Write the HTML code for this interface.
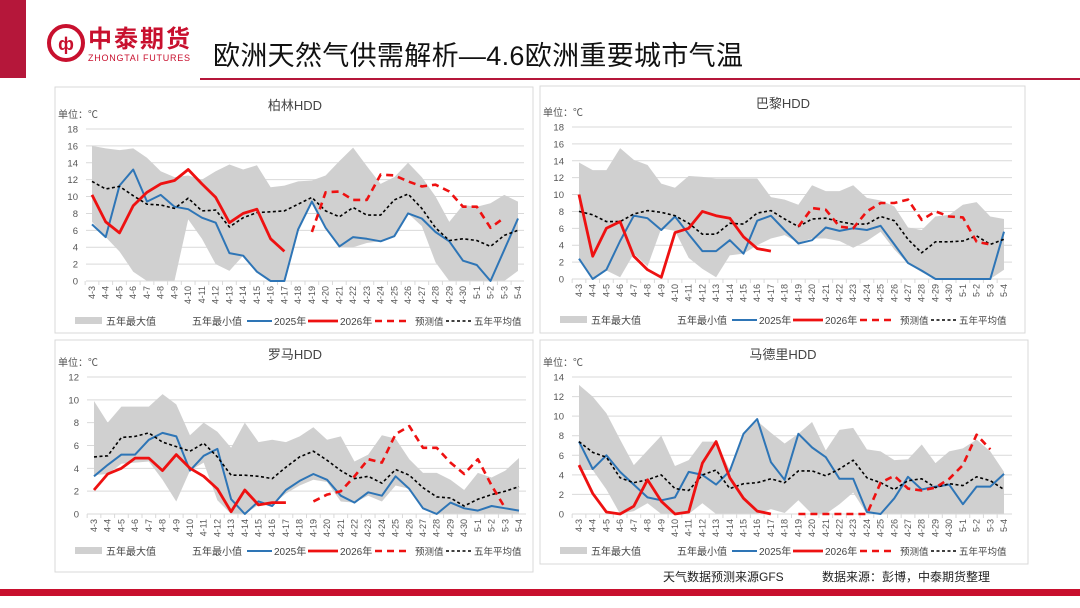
<!DOCTYPE html>
<html><head><meta charset="utf-8"><style>
html,body{margin:0;padding:0;background:#fff;width:1080px;height:608px;overflow:hidden}
svg text{font-family:"Liberation Sans","Noto Sans CJK SC",sans-serif}
</style></head><body>
<svg id="s" width="1080" height="608" xmlns="http://www.w3.org/2000/svg">
<rect x="0" y="0" width="26" height="78" fill="#b5173a"/>
<g>
<circle cx="66" cy="43" r="17" fill="none" stroke="#c8102e" stroke-width="4"/>
<text x="66" y="50" text-anchor="middle" font-size="18" font-weight="bold" fill="#c8102e">ф</text>
<text x="88" y="47" font-size="24" font-weight="bold" fill="#c8102e" font-family="Noto Sans CJK SC,sans-serif" textLength="102">中泰期货</text>
<text x="88" y="61" font-size="9" fill="#c8102e" textLength="102">ZHONGTAI FUTURES</text>
</g>
<text x="213" y="65" font-size="27" fill="#111" font-family="Noto Serif CJK SC,serif" textLength="530">欧洲天然气供需解析—4.6欧洲重要城市气温</text>
<rect x="200" y="78" width="880" height="2" fill="#b5173a"/>
<rect x="0" y="589" width="1080" height="7" fill="#c8102e"/>
<text x="663" y="581" font-size="12" fill="#222">天气数据预测来源GFS</text>
<text x="822" y="581" font-size="12" fill="#222">数据来源：彭博，中泰期货整理</text>
</svg>
<script>
const categories=["4-3","4-4","4-5","4-6","4-7","4-8","4-9","4-10","4-11","4-12","4-13","4-14","4-15","4-16","4-17","4-18","4-19","4-20","4-21","4-22","4-23","4-24","4-25","4-26","4-27","4-28","4-29","4-30","5-1","5-2","5-3","5-4"];
const N=null;
const berlinMax=[16,15.7,15.5,15.7,14.6,13,12.3,12.5,12,13,13.8,13.2,13.7,11.1,11.3,11.8,11.9,12.5,14.2,15.8,13.6,11.5,12.3,14,12.3,10,7,9,8.8,9.2,10.2,9.4];
const berlinMin=[7,5.2,3.5,1.1,0,0,0,7.3,5,2,1.2,3,1,0,0,6,9.4,6.3,4,4,4.5,4.7,5.2,8,6.5,2.2,0,0,0,0,0,1.2];
const berlin2025=[6.7,5.2,11.3,13.2,9.4,10.2,8.8,8.5,7.5,6.9,3.3,3.0,1.1,0,0,6.1,9.4,6.3,4.1,5.2,5.0,4.7,5.3,8.0,7.4,5.8,4.7,2.4,1.9,0,3.7,7.4];
const berlin2026=[10.2,7.0,5.7,8.9,10.5,11.5,11.9,13.2,11.5,9.9,6.9,8.0,8.5,5.0,3.5,N,N,N,N,N,N,N,N,N,N,N,N,N,N,N,N,N];
const berlinFc=[N,N,N,N,N,N,N,N,N,N,N,N,N,N,N,N,5.8,10.5,10.6,9.6,9.6,12.6,12.5,11.8,11.2,11.4,10.6,8.8,8.8,6.3,7.5,N];
const berlinAvg=[11.8,10.9,11.2,10.1,9.1,9.0,8.6,9.8,8.3,8.4,6.4,7.5,8.1,8.2,8.3,9.1,9.9,8.3,7.6,8.7,7.8,7.8,9.6,10.3,8.6,6.3,4.8,5.0,4.8,4.1,5.4,6.0];
const parisMax=[13.8,12.9,12.9,15.5,14.1,13.5,11.3,10.8,12.2,12.1,11.9,11.9,11.9,11.9,9.7,9.4,8.8,11.1,10.4,10.4,11.1,9.6,9.3,8.6,6.1,5.8,7.4,7.6,8.8,9.1,7.4,7.1];
const parisMin=[2.5,0,1.0,0.2,3.0,1.5,6.0,5.7,2.5,1.2,0.2,2.8,3.0,4.0,4.8,5.2,4.3,4.8,4.8,4.5,3.7,4.5,5.6,3.5,1.8,0.8,0,0,0,0,0,1.1];
const paris2025=[2.4,0,1.1,4.5,7.5,7.2,5.8,7.4,5.3,3.3,3.3,4.6,3.0,6.9,7.5,5.8,4.2,4.6,6.1,5.7,6.0,5.8,6.3,4.1,1.9,1.0,0,0,0,0,0,5.6];
const paris2026=[10.0,2.7,6.0,6.8,2.7,1.1,0.2,5.5,6.0,8.0,7.5,7.2,5.0,3.6,3.3,N,N,N,N,N,N,N,N,N,N,N,N,N,N,N,N,N];
const parisFc=[N,N,N,N,N,N,N,N,N,N,N,N,N,N,N,N,6.2,8.4,8.2,6.2,6.0,8.0,9.0,9.0,9.4,7.0,8.0,7.4,7.3,4.4,4.1,N];
const parisAvg=[8.0,7.6,6.8,6.8,7.7,8.1,7.9,7.5,6.6,5.3,5.3,6.6,6.5,7.8,8.1,7.1,6.2,7.1,7.2,6.8,6.5,6.5,7.4,6.9,4.7,3.1,4.4,4.4,4.5,5.1,4.1,4.7];
const romeMax=[9.9,8.0,9.4,9.4,9.4,10.5,9.6,6.9,8.0,7.2,5.8,8.0,6.3,6.5,6.3,6.8,7.6,6.5,6.8,4.6,5.2,6.9,6.6,4.8,3.6,3.6,3.0,2.1,3.6,3.2,3.8,4.9];
const romeMin=[3.4,3.5,4.4,4.5,4.6,3.0,1.1,3.8,4.5,1.2,0,0,0.8,0.8,1.8,2.5,3.0,2.8,1.1,1.0,1.6,1.1,2.5,2.2,0.5,0,0,0,0,0,0,0];
const rome2025=[3.3,4.3,5.2,5.2,6.5,7.1,6.8,3.8,5.1,5.7,1.3,0,1.1,0.7,2.1,2.9,3.5,3.0,1.6,1.0,1.9,1.6,3.3,2.2,0.5,0,1.0,0.5,0.3,0.7,0.5,0.3];
const rome2026=[2.1,3.5,4.0,4.9,4.9,3.8,5.2,4.0,3.3,2.2,0.2,2.1,0.8,1.0,1.0,N,N,N,N,N,N,N,N,N,N,N,N,N,N,N,N,N];
const romeFc=[N,N,N,N,N,N,N,N,N,N,N,N,N,N,N,N,1.1,1.7,2.0,3.3,4.8,4.5,7.0,7.7,5.8,5.8,4.5,3.5,4.8,2.5,0.5,N];
const romeAvg=[5.0,5.1,6.7,6.8,7.1,6.3,5.9,5.5,6.2,5.0,3.4,3.4,3.3,3.1,4.1,5.0,5.5,4.7,3.8,3.1,3.3,2.7,3.9,3.4,2.3,1.5,1.4,0.7,1.3,1.7,2.0,2.4];
const madridMax=[13.2,12.0,10.3,7.6,5.0,6.5,8.0,4.9,5.5,7.4,7.4,4.5,8.2,9.5,8.3,7.2,8.2,9.4,6.5,8.6,8.8,6.6,6.4,5.5,5.6,7.1,5.2,6.4,6.7,7.6,6.4,4.3];
const madridMin=[4.5,4.5,2.5,0,0.3,1.1,0,0,0,1.1,0,0,0,0,0.5,0.1,1.4,0,0,1.0,2.2,0,0,0,0,0,0,0,0,0,0,0];
const madrid2025=[7.4,4.6,6.0,4.3,3.0,1.7,1.4,1.7,4.3,4.0,3.0,4.4,8.2,9.7,5.3,3.5,8.2,6.8,5.8,3.6,3.6,0.2,0,1.6,3.8,2.5,2.8,3.0,1.0,2.8,2.8,4.1];
const madrid2026=[5.0,2.1,0.2,0,0.8,3.5,1.3,0,0.2,5.2,7.4,3.7,1.6,0.3,0,N,N,N,N,N,N,N,N,N,N,N,N,N,N,N,N,N];
const madridFc=[N,N,N,N,N,N,N,N,N,N,N,N,N,N,N,N,0,0,0,0,0,0,3.2,3.9,2.6,2.4,2.7,3.6,5.0,8.1,6.6,N];
const madridAvg=[7.4,6.3,5.8,3.7,3.2,3.5,4.0,2.6,2.4,4.0,4.5,2.6,3.1,3.2,3.6,3.2,4.4,4.4,3.9,4.6,5.5,3.7,3.2,2.5,3.4,3.6,2.7,3.1,2.9,3.8,3.4,2.5];
const berlinTicks=[0,2,4,6,8,10,12,14,16,18];
const parisTicks=[0,2,4,6,8,10,12,14,16,18];
const romeTicks=[0,2,4,6,8,10,12];
const madridTicks=[0,2,4,6,8,10,12,14];

const NS="http://www.w3.org/2000/svg";
const svg=document.getElementById('s');
function mk(tag,attrs,parent,txt){const e=document.createElementNS(NS,tag);for(const k in attrs)e.setAttribute(k,attrs[k]);if(txt!=null)e.textContent=txt;(parent||svg).appendChild(e);return e;}
function pathOf(vals,x,y){let d="",pen=false;vals.forEach((v,i)=>{if(v==null){pen=false;return;}d+=(pen?"L":"M")+x(i).toFixed(1)+","+y(v).toFixed(1);pen=true;});return d;}

function panel(c){
  const g=mk('g',{},svg);
  
  
  const box=mk('rect',{x:c.bx,y:c.by,width:c.bw,height:c.bh,fill:'#fff',stroke:'#d9d9d9','stroke-width':1},g);
  
  
  const ymax=c.ticks[c.ticks.length-1];
  const y=v=>c.y0-(v/ymax)*(c.y0-c.yTop);
  const x=i=>c.x0+i*(c.x1-c.x0)/(categories.length-1);
  const t=mk('text',{x:c.tx,y:c.ty,'text-anchor':'middle','font-size':13,fill:'#444'},g,c.title);
  
  
  const u=mk('text',{x:c.bx+3,y:c.yTop-11,'font-size':10,fill:'#555'},g,'单位：℃');
  
  
  c.ticks.forEach(v=>{
    const gl=mk('line',{x1:c.px0,x2:c.px1,y1:y(v),y2:y(v),stroke:'#d9d9d9','stroke-width':1},g);
    
    
    const tl=mk('text',{x:c.px0-8,y:y(v)+3.5,'text-anchor':'end','font-size':9.5,fill:'#555'},g,v);
    
    
  });
  let pts=[];c.max.forEach((v,i)=>pts.push(x(i)+","+y(v)));
  for(let i=c.min.length-1;i>=0;i--)pts.push(x(i)+","+y(c.min[i]));
  const band=mk('polygon',{points:pts.join(' '),fill:'#d0d0d0'},g);
  
  
  const ax=mk('line',{x1:c.px0,x2:c.px1,y1:c.y0,y2:c.y0,stroke:'#d9d9d9'},g);
  
  
  categories.forEach((cat,i)=>{
    const tk=mk('line',{x1:x(i)-(x(1)-x(0))/2,x2:x(i)-(x(1)-x(0))/2,y1:c.y0,y2:c.y0+4,stroke:'#d9d9d9'},g);
    
    
    const tl=mk('text',{x:0,y:0,'text-anchor':'end','font-size':9,fill:'#555',transform:`translate(${x(i)+3},${c.y0+5}) rotate(-90)`},g,cat);
    
    
  });
  const series=[
    [c.s2025,'#2e75b6',2,'','series-2025'],
    [c.avg,'#000',1.6,'3,2.5','series-5yr-average'],
    [c.fc,'#ee1111',2.6,'7,5','series-forecast'],
    [c.s2026,'#ee1111',2.8,'','series-2026']];
  series.forEach(s=>{
    const p=mk('path',{d:pathOf(s[0],x,y),fill:'none',stroke:s[1],'stroke-width':s[2],'stroke-dasharray':s[3],'stroke-linejoin':'round'},g);
    
    
  });
  const ly=c.ly,lx=c.bx;
  const lg=mk('g',{},g);
  
  
  mk('rect',{x:lx+20,y:ly-4,width:27,height:7,fill:'#d0d0d0'},lg);
  mk('text',{x:lx+51,y:ly+4,'font-size':10,fill:'#444'},lg,'五年最大值');
  mk('text',{x:lx+137,y:ly+4,'font-size':10,fill:'#444'},lg,'五年最小值');
  mk('line',{x1:lx+192,x2:lx+217,y1:ly,y2:ly,stroke:'#2e75b6','stroke-width':2},lg);
  mk('text',{x:lx+219,y:ly+4,'font-size':10,fill:'#444'},lg,'2025年');
  mk('line',{x1:lx+253,x2:lx+283,y1:ly,y2:ly,stroke:'#ee1111','stroke-width':2.8},lg);
  mk('text',{x:lx+285,y:ly+4,'font-size':10,fill:'#444'},lg,'2026年');
  mk('line',{x1:lx+320,x2:lx+352,y1:ly,y2:ly,stroke:'#ee1111','stroke-width':2.6,'stroke-dasharray':'7,5'},lg);
  mk('text',{x:lx+360,y:ly+4,'font-size':9.5,fill:'#444'},lg,'预测值');
  mk('line',{x1:lx+391,x2:lx+416,y1:ly,y2:ly,stroke:'#000','stroke-width':1.6,'stroke-dasharray':'3,2.5'},lg);
  mk('text',{x:lx+419,y:ly+4,'font-size':9.5,fill:'#444'},lg,'五年平均值');
}
panel({id:'berlin',title:'柏林HDD',bx:55,by:87,bw:478,bh:246,tx:295,ty:110,yTop:129,y0:281,x0:92,x1:518,px0:86,px1:524,ly:321,ticks:berlinTicks,max:berlinMax,min:berlinMin,s2025:berlin2025,s2026:berlin2026,fc:berlinFc,avg:berlinAvg});
panel({id:'paris',title:'巴黎HDD',bx:540,by:86,bw:485,bh:247,tx:783,ty:108,yTop:127,y0:279,x0:579,x1:1004,px0:572,px1:1012,ly:320,ticks:parisTicks,max:parisMax,min:parisMin,s2025:paris2025,s2026:paris2026,fc:parisFc,avg:parisAvg});
panel({id:'rome',title:'罗马HDD',bx:55,by:340,bw:478,bh:232,tx:295,ty:359,yTop:377,y0:514,x0:94,x1:519,px0:87,px1:526,ly:551,ticks:romeTicks,max:romeMax,min:romeMin,s2025:rome2025,s2026:rome2026,fc:romeFc,avg:romeAvg});
panel({id:'madrid',title:'马德里HDD',bx:540,by:340,bw:488,bh:224,tx:783,ty:359,yTop:377,y0:514,x0:579,x1:1004,px0:572,px1:1012,ly:551,ticks:madridTicks,max:madridMax,min:madridMin,s2025:madrid2025,s2026:madrid2026,fc:madridFc,avg:madridAvg});
</script>
</body></html>
